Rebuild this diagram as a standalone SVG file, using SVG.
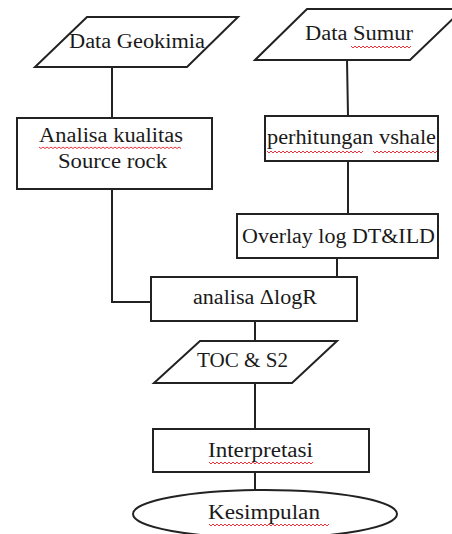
<svg xmlns="http://www.w3.org/2000/svg" width="452" height="534" viewBox="0 0 452 534">
<defs>
<style>
.s{fill:#fff;stroke:#222;stroke-width:2}
.c{fill:none;stroke:#222;stroke-width:2}
.t{font-family:"Liberation Serif","Times New Roman",serif;font-size:20px;fill:#1a1a1a;text-anchor:start}
.w{fill:none;stroke:#e8333a;stroke-width:1}
</style>
</defs>
<rect width="452" height="534" fill="#fff"/>
<g id="connectors">
<line class="c" x1="112" y1="68" x2="112" y2="118"/>
<polyline class="c" points="112,189 112,302 151,302"/>
<line class="c" x1="347" y1="60" x2="348" y2="116"/>
<line class="c" x1="348" y1="161" x2="348" y2="214"/>
<line class="c" x1="337" y1="258" x2="337" y2="277"/>
<line class="c" x1="255" y1="321" x2="255" y2="341"/>
<line class="c" x1="255" y1="383" x2="255" y2="429"/>
<line class="c" x1="255" y1="472" x2="255" y2="490"/>
</g>
<g id="data-geokimia">
<polygon class="s" points="87,17 238,17 187,67 35,67"/>
<text class="t" x="69" y="48" textLength="136" lengthAdjust="spacingAndGlyphs">Data Geokimia</text>
</g>
<g id="data-sumur">
<polygon class="s" points="307,9 463,9 410,60 255,60"/>
<text class="t" x="305" y="40" textLength="108" lengthAdjust="spacingAndGlyphs">Data Sumur</text>
<path class="w" d="M351,46 l2,2 l2,-2 l2,2 l2,-2 l2,2 l2,-2 l2,2 l2,-2 l2,2 l2,-2 l2,2 l2,-2 l2,2 l2,-2 l2,2 l2,-2 l2,2 l2,-2 l2,2 l2,-2 l2,2 l2,-2 l2,2 l2,-2 l2,2 l2,-2 l2,2 l2,-2 l2,2 l2,-2"/>
</g>
<g id="analisa-kualitas">
<rect class="s" x="17" y="118" width="195" height="71"/>
<text class="t" x="39" y="142" textLength="144" lengthAdjust="spacingAndGlyphs">Analisa kualitas</text>
<text class="t" x="58" y="168" textLength="109" lengthAdjust="spacingAndGlyphs">Source rock</text>
<path class="w" d="M39,147 l2,1.5 l2,-1.5 l2,1.5 l2,-1.5 l2,1.5 l2,-1.5 l2,1.5 l2,-1.5 l2,1.5 l2,-1.5 l2,1.5 l2,-1.5 l2,1.5 l2,-1.5 l2,1.5 l2,-1.5 l2,1.5 l2,-1.5 l2,1.5 l2,-1.5 l2,1.5 l2,-1.5 l2,1.5 l2,-1.5 l2,1.5 l2,-1.5 l2,1.5 l2,-1.5 l2,1.5 l2,-1.5 l2,1.5 l2,-1.5 l2,1.5 l2,-1.5 l2,1.5 l2,-1.5 l2,1.5 l2,-1.5 l2,1.5 l2,-1.5 l2,1.5 l2,-1.5 l2,1.5 l2,-1.5 l2,1.5 l2,-1.5 l2,1.5 l2,-1.5 l2,1.5 l2,-1.5 l2,1.5 l2,-1.5 l2,1.5 l2,-1.5 l2,1.5 l2,-1.5 l2,1.5 l2,-1.5 l2,1.5 l2,-1.5 l2,1.5 l2,-1.5 l2,1.5 l2,-1.5 l2,1.5 l2,-1.5 l2,1.5 l2,-1.5 l2,1.5 l2,-1.5 l2,1.5"/>
</g>
<g id="perhitungan-vshale">
<rect class="s" x="265" y="116" width="173" height="45"/>
<text class="t" x="267" y="144" textLength="169" lengthAdjust="spacingAndGlyphs">perhitungan vshale</text>
<path class="w" d="M267,151 l2,2 l2,-2 l2,2 l2,-2 l2,2 l2,-2 l2,2 l2,-2 l2,2 l2,-2 l2,2 l2,-2 l2,2 l2,-2 l2,2 l2,-2 l2,2 l2,-2 l2,2 l2,-2 l2,2 l2,-2 l2,2 l2,-2 l2,2 l2,-2 l2,2 l2,-2 l2,2 l2,-2 l2,2 l2,-2 l2,2 l2,-2 l2,2 l2,-2 l2,2 l2,-2 l2,2 l2,-2 l2,2 l2,-2 l2,2 l2,-2 l2,2 l2,-2 l2,2 l2,-2 M373,151 l2,2 l2,-2 l2,2 l2,-2 l2,2 l2,-2 l2,2 l2,-2 l2,2 l2,-2 l2,2 l2,-2 l2,2 l2,-2 l2,2 l2,-2 l2,2 l2,-2 l2,2 l2,-2 l2,2 l2,-2 l2,2 l2,-2 l2,2 l2,-2 l2,2 l2,-2 l2,2 l2,-2 l2,2 l2,-2"/>
</g>
<g id="overlay-log">
<rect class="s" x="237" y="214" width="201" height="44"/>
<text class="t" x="242" y="243" textLength="193" lengthAdjust="spacingAndGlyphs">Overlay log DT&amp;ILD</text>
</g>
<g id="analisa-logr">
<rect class="s" x="151" y="277" width="206" height="44"/>
<text class="t" x="193" y="304" textLength="124" lengthAdjust="spacingAndGlyphs">analisa ΔlogR</text>
</g>
<g id="toc-s2">
<polygon class="s" points="200,341 337,341 292,383 154,383"/>
<text class="t" x="197" y="367" textLength="91" lengthAdjust="spacingAndGlyphs">TOC &amp; S2</text>
</g>
<g id="interpretasi">
<rect class="s" x="153" y="429" width="216" height="43"/>
<text class="t" x="208" y="457" textLength="105" lengthAdjust="spacingAndGlyphs">Interpretasi</text>
<path class="w" d="M209,462 l2,2 l2,-2 l2,2 l2,-2 l2,2 l2,-2 l2,2 l2,-2 l2,2 l2,-2 l2,2 l2,-2 l2,2 l2,-2 l2,2 l2,-2 l2,2 l2,-2 l2,2 l2,-2 l2,2 l2,-2 l2,2 l2,-2 l2,2 l2,-2 l2,2 l2,-2 l2,2 l2,-2 l2,2 l2,-2 l2,2 l2,-2 l2,2 l2,-2 l2,2 l2,-2 l2,2 l2,-2 l2,2 l2,-2 l2,2 l2,-2 l2,2 l2,-2 l2,2 l2,-2 l2,2 l2,-2 l2,2 l2,-2"/>
</g>
<g id="kesimpulan">
<ellipse class="s" cx="265" cy="514" rx="132" ry="24"/>
<text class="t" x="208" y="519" textLength="112" lengthAdjust="spacingAndGlyphs">Kesimpulan</text>
<path class="w" d="M209,524 l2,2 l2,-2 l2,2 l2,-2 l2,2 l2,-2 l2,2 l2,-2 l2,2 l2,-2 l2,2 l2,-2 l2,2 l2,-2 l2,2 l2,-2 l2,2 l2,-2 l2,2 l2,-2 l2,2 l2,-2 l2,2 l2,-2 l2,2 l2,-2 l2,2 l2,-2 l2,2 l2,-2 l2,2 l2,-2 l2,2 l2,-2 l2,2 l2,-2 l2,2 l2,-2 l2,2 l2,-2 l2,2 l2,-2 l2,2 l2,-2 l2,2 l2,-2 l2,2 l2,-2 l2,2 l2,-2 l2,2 l2,-2 l2,2 l2,-2 l2,2 l2,-2 l2,2 l2,-2 l2,2 l2,-2"/>
</g>
</svg>
